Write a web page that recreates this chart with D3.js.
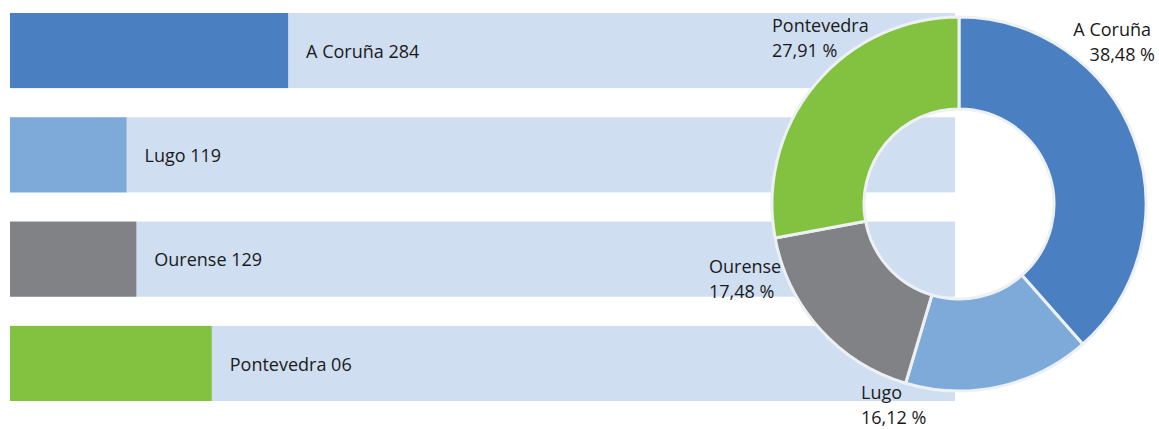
<!DOCTYPE html>
<html>
<head>
<meta charset="utf-8">
<script src="https://cdn.jsdelivr.net/npm/d3@7"></script>
<style>
  body { margin: 0; background: #fff; }
  svg { display: block; font-family: "Open Sans", sans-serif; }
</style>
</head>
<body>
<div id="chart"></div>
<script>
// Data
const provinces = ["A Coruña", "Lugo", "Ourense", "Pontevedra"];
const counts = [284, 119, 129, 206];
const barLabels = ["A Coruña 284", "Lugo 119", "Ourense 129", "Pontevedra 06"];
const pctLabels = ["38,48 %", "16,12 %", "17,48 %", "27,91 %"];
const colors = ["#4a80c1", "#7eaada", "#818286", "#83c241"];

const width = 1159, height = 429;

const svg = d3.select("#chart").append("svg")
    .attr("width", width)
    .attr("height", height);

// --- bars ---
const x = d3.scaleLinear().domain([0, 965]).range([10, 955]);
const y = d3.scaleBand().domain(provinces).range([13, 401]).paddingInner(0.28);

const rows = svg.append("g").selectAll("g.row")
    .data(provinces)
    .enter().append("g")
    .attr("class", "row");

// light background track
rows.append("rect")
    .attr("x", x(0))
    .attr("y", d => y(d))
    .attr("width", x.range()[1] - x(0))
    .attr("height", y.bandwidth())
    .style("fill", "#cfdef0");

rows.append("rect")
    .attr("x", x(0))
    .attr("y", d => y(d))
    .attr("width", (d, i) => x(counts[i]) - x(0))
    .attr("height", y.bandwidth())
    .style("fill", (d, i) => colors[i]);

rows.append("text")
    .attr("x", (d, i) => x(counts[i]) + 18)
    .attr("y", d => y(d) + y.bandwidth() / 2)
    .attr("dy", "0.4em")
    .style("font-size", "18px")
    .style("fill", "#1a1a1a")
    .text((d, i) => barLabels[i]);

// --- donut ---
const cx = 959, cy = 204;
const outerR = 187, innerR = 95;

const pie = d3.pie().sort(null).value(d => d)(counts);
const arc = d3.arc().innerRadius(innerR).outerRadius(outerR);

const donut = svg.append("g")
    .attr("transform", `translate(${cx},${cy})`);

donut.selectAll("path")
    .data(pie)
    .enter().append("path")
    .attr("d", arc)
    .style("fill", (d, i) => colors[i])
    .style("stroke", "#eef1f4")
    .style("stroke-width", "3px")
    .style("stroke-linejoin", "round");

// label anchors relative to the donut centre (hand placed like the original)
const labelPos = [
    { dx: 196, dy: -168, anchor: "end" },
    { dx: -98, dy: 195, anchor: "start" },
    { dx: -250, dy: 69, anchor: "start" },
    { dx: -187, dy: -172, anchor: "start" }
];

const labels = donut.selectAll("text.lbl")
    .data(pie)
    .enter().append("text")
    .attr("class", "lbl")
    .attr("text-anchor", (d, i) => labelPos[i].anchor)
    .attr("transform", (d, i) => `translate(${labelPos[i].dx},${labelPos[i].dy})`)
    .style("font-size", "18px")
    .style("fill", "#1a1a1a");

labels.append("tspan")
    .attr("x", 0)
    .attr("dx", (d, i) => i === 0 ? -4 : 0)
    .text((d, i) => provinces[i]);

labels.append("tspan")
    .attr("x", 0)
    .attr("dy", 25)
    .text((d, i) => pctLabels[i]);
</script>
</body>
</html>
